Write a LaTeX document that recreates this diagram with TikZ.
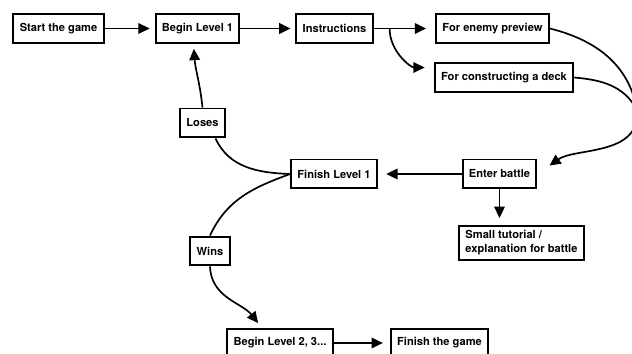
\documentclass[tikz,border=0pt]{standalone}
\usepackage{fontspec}
\setmainfont{TeX Gyre Heros}
\usetikzlibrary{arrows.meta,calc}

\begin{document}
\begin{tikzpicture}[x=0.025cm,y=-0.025cm]

\tikzset{line/.style={draw,line width=1.2pt}}
\tikzset{arrow/.style={line,-{Triangle[length=8pt,width=7.5pt]},shorten >=3.5pt}}
\tikzset{box/.style={draw,line width=1.4pt,inner xsep=4.5pt,minimum height=20.6pt,font=\fontsize{7.9}{10}\selectfont\bfseries}}

\useasboundingbox (0,0) rectangle (632,354);

\node[box] (start) at (58.5, 28.5) {Start the game};
\node[box] (begin1) at (197.5, 28.5) {Begin Level 1};
\node[box] (instr) at (334.5, 28.5) {Instructions};
\node[box] (preview) at (492.5, 28.5) {For enemy preview};
\node[box] (deck) at (504, 77.5) {For constructing a deck};
\node[box] (battle) at (499.5, 174) {Enter battle};
\node[box] (finish1) at (334, 174) {Finish Level 1};
\node[box,align=left,minimum height=24pt] (tutorial) at (521.5, 243) {Small tutorial /\\explanation for battle};
\node[box] (loses) at (202.5, 123) {Loses};
\node[box] (wins) at (210, 251) {Wins};
\node[box] (begin2) at (280, 343) {Begin Level 2, 3...};
\node[box] (finishgame) at (439.5, 343) {Finish the game};

\coordinate (split) at ($(instr.east)+(16,0)$);
\coordinate (turn) at (637, 110);

\path[arrow] (start) to (begin1);
\path[arrow] (begin1) to (instr);
\path[arrow,shorten >=6.5pt] (instr) to (preview);
\path[arrow,shorten >=6.5pt] (split) to[out=-90,in=180] ($(deck.west)+(0,-10)$);
\path[line] (preview.east) to[out=-14,in=100] (turn);
\path[line] (deck.east) to[out=-5,in=118] (turn);
\path[arrow,shorten >=10.5pt] (turn) to[out=-85,in=35] (battle.east);
\path[arrow,shorten >=6pt] (battle) to (finish1);
\path[arrow,shorten >=5pt] (battle.south) to (battle.south |- tutorial.north);
\path[line] (loses.-50) to[out=-65,in=178] (finish1.west);
\path[arrow] (loses.north) to[out=96,in=-86] ($(begin1.south)+(-4,0)$);
\path[line] (finish1.west) to[out=200,in=65] (wins.north);
\path[arrow,shorten >=4pt] (wins.south) to[out=-88,in=128] (begin2.140);
\path[arrow,shorten >=5pt] (begin2) to (finishgame);

\end{tikzpicture}
\end{document}
